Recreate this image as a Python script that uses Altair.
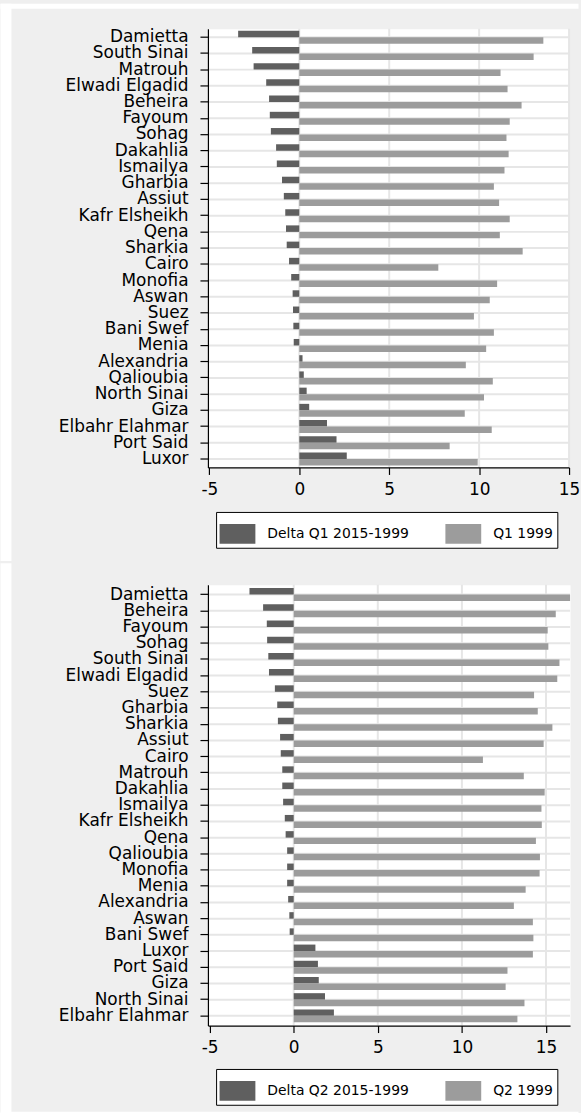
import altair as alt
import pandas as pd

# Governorates in plotted order (top to bottom), first panel
regions_q1 = ["Damietta", "South Sinai", "Matrouh", "Elwadi Elgadid", "Beheira", "Fayoum",
              "Sohag", "Dakahlia", "Ismailya", "Gharbia", "Assiut", "Kafr Elsheikh", "Qena",
              "Sharkia", "Cairo", "Monofia", "Aswan", "Suez", "Bani Swef", "Menia",
              "Alexandria", "Qalioubia", "North Sinai", "Giza", "Elbahr Elahmar",
              "Port Said", "Luxor"]
delta_q1 = [-3.40, -2.62, -2.54, -1.84, -1.68, -1.64, -1.58, -1.29, -1.25, -0.96, -0.86,
            -0.78, -0.74, -0.70, -0.57, -0.45, -0.37, -0.35, -0.33, -0.31, 0.18, 0.25,
            0.41, 0.55, 1.54, 2.07, 2.64]
q1_1999 = [13.57, 13.03, 11.19, 11.58, 12.36, 11.70, 11.52, 11.64, 11.41, 10.82, 11.11,
           11.70, 11.15, 12.42, 7.73, 11.00, 10.59, 9.71, 10.82, 10.39, 9.26, 10.76,
           10.27, 9.20, 10.70, 8.36, 9.92]

# Second panel
regions_q2 = ["Damietta", "Beheira", "Fayoum", "Sohag", "South Sinai", "Elwadi Elgadid",
              "Suez", "Gharbia", "Sharkia", "Assiut", "Cairo", "Matrouh", "Dakahlia",
              "Ismailya", "Kafr Elsheikh", "Qena", "Qalioubia", "Monofia", "Menia",
              "Alexandria", "Aswan", "Bani Swef", "Luxor", "Port Said", "Giza",
              "North Sinai", "Elbahr Elahmar"]
delta_q2 = [-2.63, -1.82, -1.60, -1.58, -1.51, -1.47, -1.12, -0.98, -0.94, -0.81, -0.77,
            -0.68, -0.68, -0.63, -0.53, -0.48, -0.39, -0.39, -0.39, -0.33, -0.26, -0.24,
            1.29, 1.44, 1.49, 1.86, 2.39]
q2_1999 = [16.43, 15.58, 15.10, 15.14, 15.80, 15.67, 14.29, 14.51, 15.38, 14.86, 11.25,
           13.68, 14.92, 14.73, 14.75, 14.40, 14.64, 14.62, 13.79, 13.09, 14.22, 14.25,
           14.22, 12.71, 12.60, 13.72, 13.30]

x_ticks = [-5, 0, 5, 10, 15]
x_grid = [0, 5, 10, 15]

DARK = "#5f5f5f"
LIGHT = "#9c9c9c"
PANEL = "#efefef"
GRID = "#e6e6e6"
FONT = "DejaVu Sans"

# wide, short legend swatch
SWATCH = "M-1,-0.5556L1,-0.5556L1,0.5556L-1,0.5556Z"

# page frame: white margins around the grey graph region (pixel offsets from plot origin)
LEFT = -208.5
RIGHT = 372.5


def frame(strips):
    one = pd.DataFrame({"k": [0]})
    return [
        alt.Chart(one).mark_rect(color="white").encode(
            x=alt.value(x0), x2=alt.value(x1), y=alt.value(y0), y2=alt.value(y1))
        for x0, x1, y0, y1 in strips
    ]


def panel(regions, delta, base, quarter, x_min, width, height, pad_outer, legend_y, strips):
    s_delta = f"Delta {quarter} 2015-1999"
    s_base = f"{quarter} 1999"
    n = len(regions)
    bars = pd.DataFrame({
        "region": regions * 2,
        "series": [s_delta] * n + [s_base] * n,
        "value": delta + base,
    })
    x_max = max(15, max(base))
    xs = alt.Scale(domain=[x_min, x_max], nice=False, zero=False)
    ys = alt.Scale(domain=regions, paddingInner=0.2, paddingOuter=pad_outer)

    x_axis = alt.Axis(values=x_ticks, title=None, grid=False, labelFlush=False,
                      labelExpr="'' + datum.value", tickSize=7, labelPadding=7,
                      labelFontSize=17, domainWidth=1.2, tickWidth=1.2, zindex=1)
    y_axis = alt.Axis(title=None, grid=False, tickSize=8, labelPadding=12,
                      labelFontSize=17, labelLimit=300, labelOverlap=False,
                      domainWidth=1.2, tickWidth=1.2, zindex=1)

    vgrid = alt.Chart(pd.DataFrame({"value": x_grid})).mark_rule(
        color=GRID, strokeWidth=2).encode(x=alt.X("value:Q", scale=xs, axis=x_axis))
    hgrid = alt.Chart(pd.DataFrame({"region": regions})).mark_rule(
        color=GRID, strokeWidth=2).encode(y=alt.Y("region:N", scale=ys, axis=y_axis))

    bar_layer = alt.Chart(bars).mark_bar(opacity=1).encode(
        x=alt.X("value:Q", scale=xs, axis=x_axis),
        y=alt.Y("region:N", scale=ys, axis=y_axis),
        yOffset=alt.YOffset("series:N", scale=alt.Scale(domain=[s_delta, s_base],
                                                         paddingInner=0, paddingOuter=0)),
        color=alt.Color(
            "series:N",
            scale=alt.Scale(domain=[s_delta, s_base], range=[DARK, LIGHT]),
            legend=alt.Legend(
                orient="none", legendX=8.2, legendY=legend_y, direction="horizontal",
                title=None, symbolType=SWATCH, symbolSize=1296, symbolStrokeWidth=0,
                symbolOpacity=1, labelFont=FONT, labelFontSize=14, labelColor="black",
                labelOffset=12, columnPadding=36, padding=3.5, strokeColor="black",
                fillColor="white", labelLimit=400, zindex=1),
        ),
    )
    return alt.layer(*frame(strips), vgrid, hgrid, bar_layer).properties(
        width=width, height=height)


top = panel(regions_q1, delta_q1, q1_1999, "Q1", -5.08, 363, 441, 0.12, 485.7,
            [(LEFT, RIGHT, -25, -20), (LEFT, LEFT + 11, -25, 535)])
bottom = panel(regions_q2, delta_q2, q2_1999, "Q2", -5.1, 364, 443, 0.2, 486.6,
               [(LEFT, LEFT + 11, -21.7, 531.3), (LEFT, RIGHT, 529.6, 531.3)])

chart = alt.vconcat(top, bottom, spacing=0).resolve_scale(
    x="independent", y="independent", color="independent", yOffset="independent"
).resolve_legend(color="independent").properties(
    background=PANEL,
    padding={"left": 0, "top": 0, "right": 0, "bottom": 0},
).configure_view(
    fill="white", stroke="transparent"
).configure_axis(
    labelFont=FONT, labelColor="black", domainColor="black", tickColor="black"
)

chart.save("out.html", embed_options={"renderer": "svg", "actions": False})
